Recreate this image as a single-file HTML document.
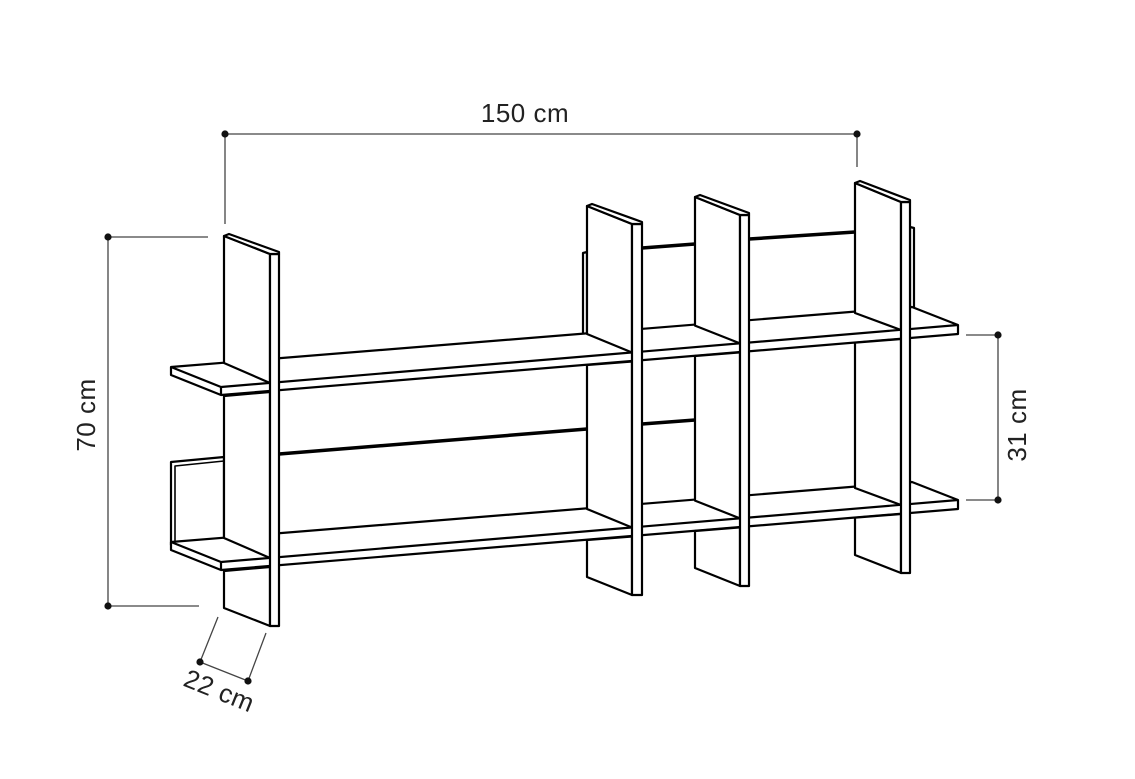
<!DOCTYPE html>
<html><head><meta charset="utf-8"><style>
html,body{margin:0;padding:0;background:#fff;}
svg{display:block;}
text{font-family:"Liberation Sans",sans-serif;fill:#222;letter-spacing:0.5px;}
</style></head><body>
<svg width="1135" height="779" viewBox="0 0 1135 779" xmlns="http://www.w3.org/2000/svg">
<rect width="1135" height="779" fill="#fff"/>

<!-- dimension lines -->
<g stroke="#444" stroke-width="1.3" fill="none">
  <line x1="225" y1="134" x2="857" y2="134"/>
  <line x1="225" y1="134" x2="225" y2="224"/>
  <line x1="857" y1="134" x2="857" y2="167"/>
  <line x1="108" y1="237" x2="208" y2="237"/>
  <line x1="108" y1="606" x2="199" y2="606"/>
  <line x1="108" y1="237" x2="108" y2="606"/>
  <line x1="966" y1="335" x2="998" y2="335"/>
  <line x1="966" y1="500" x2="998" y2="500"/>
  <line x1="998" y1="335" x2="998" y2="500"/>
  <line x1="200" y1="662" x2="248" y2="681"/>
  <line x1="200" y1="662" x2="218" y2="617"/>
  <line x1="248" y1="681" x2="266" y2="633"/>
</g>
<g fill="#111">
  <circle cx="225" cy="134" r="3.6"/><circle cx="857" cy="134" r="3.6"/>
  <circle cx="108" cy="237" r="3.6"/><circle cx="108" cy="606" r="3.6"/>
  <circle cx="998" cy="335" r="3.6"/><circle cx="998" cy="500" r="3.6"/>
  <circle cx="200" cy="662" r="3.6"/><circle cx="248" cy="681" r="3.6"/>
</g>
<text x="525" y="122" font-size="26" text-anchor="middle">150 cm</text>
<text transform="translate(95,415) rotate(-90)" font-size="26" text-anchor="middle">70 cm</text>
<text transform="translate(1026,425) rotate(-90)" font-size="26" text-anchor="middle">31 cm</text>
<text transform="translate(216,699) rotate(22)" font-size="26" text-anchor="middle">22 cm</text>

<g stroke="#000" stroke-width="2.2" stroke-linejoin="round" fill="#fff">
  <g stroke-width="3.5" fill="none">
    <line x1="279" y1="454" x2="587" y2="429"/>
    <line x1="642" y1="248" x2="695" y2="244"/>
    <line x1="749" y1="239" x2="855" y2="232"/>
    <line x1="642" y1="424" x2="695" y2="420"/>
  </g>
  <polygon points="171,462 224,457 224,545 171,545"/>
  <polyline points="175,545 175,466 224,461" fill="none" stroke-width="1.6"/>
  <polygon points="583,253 587,252 587,336 583,336"/>
  <polygon points="910,227 914,228 914,310 910,310"/>

  <polygon points="171,367 912,307 958,325 958,334 221,395 171,375"/>
  <polyline points="171,367 221,387 958,325" fill="none"/>
  <line x1="221" y1="387" x2="221" y2="395"/>
  <polygon points="171,542 912,482 958,500 958,509 221,570 171,550"/>
  <polyline points="171,542 221,562 958,500" fill="none"/>
  <line x1="221" y1="562" x2="221" y2="570"/>

  <polygon points="224,236 270,254 270,383 224,363"/>
  <polygon points="224,396 270,392 270,558 224,538"/>
  <polygon points="224,571 270,567 270,626 224,608"/>
  <polygon points="587,206 632,224 632,352.5 587,334"/>
  <polygon points="587,365 632,361.5 632,527.5 587,509"/>
  <polygon points="587,540 632,536.5 632,595 587,577"/>
  <polygon points="695,197 740,215 740,343.4 695,325.6"/>
  <polygon points="695,356 740,352.4 740,518.4 695,500.6"/>
  <polygon points="695,531 740,527.4 740,586 695,568"/>
  <polygon points="855,183 901,202 901,330 855,313"/>
  <polygon points="855,342.7 901,339 901,505 855,488"/>
  <polygon points="855,517.7 901,514 901,573 855,555"/>

  <rect x="270" y="254" width="9" height="372"/>
  <polygon points="224,236 229,234 279,252 279,254 270,254"/>
  <rect x="632" y="224" width="10" height="371"/>
  <polygon points="587,206 592,204 642,222 642,224 632,224"/>
  <rect x="740" y="215" width="9" height="371"/>
  <polygon points="695,197 700,195 749,213 749,215 740,215"/>
  <rect x="901" y="202" width="9" height="371"/>
  <polygon points="855,183 860,181 910,200 910,202 901,202"/>
</g>
</svg>
</body></html>
